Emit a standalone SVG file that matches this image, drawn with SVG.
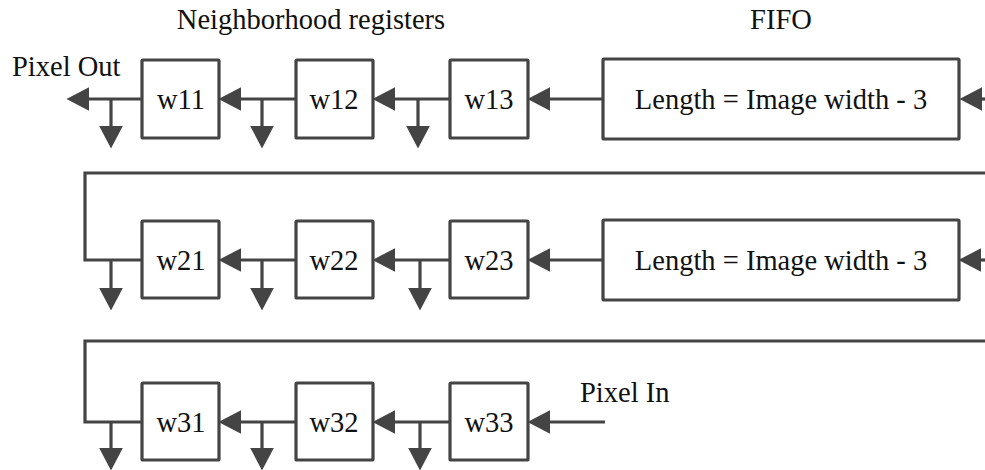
<svg xmlns="http://www.w3.org/2000/svg" width="985" height="470" viewBox="0 0 985 470">
<defs>
<marker id="ah" markerUnits="userSpaceOnUse" markerWidth="24" markerHeight="24" viewBox="0 0 22 22" refX="15" refY="11" orient="auto">
<path d="M0,0 L21,11 L0,22 Z" fill="#444"/>
</marker>
<style>
.box{fill:#fff;stroke:#444;stroke-width:3.2}
.ln{fill:none;stroke:#444;stroke-width:3.2}
.arr{fill:none;stroke:#444;stroke-width:3.2;marker-end:url(#ah)}
text{font-family:"Liberation Serif","Times New Roman",serif;font-size:28.5px;fill:#111}
.c{text-anchor:middle}
</style>
</defs>
<rect width="985" height="470" fill="#fff"/>
<g id="labels">
<text class="c" x="311" y="29">Neighborhood registers</text>
<text class="c" x="781" y="29">FIFO</text>
<text x="12" y="76">Pixel Out</text>
<text x="580" y="402">Pixel In</text>
</g>
<g id="connectors">
<!-- row 1 -->
<line class="arr" x1="985" y1="99" x2="966" y2="99"/>
<line class="arr" x1="603" y1="99" x2="534" y2="99"/>
<line class="arr" x1="450" y1="99" x2="379" y2="99"/>
<line class="arr" x1="296" y1="99" x2="225" y2="99"/>
<line class="arr" x1="142" y1="99" x2="73" y2="99"/>
<line class="arr" x1="111" y1="99" x2="111" y2="142"/>
<line class="arr" x1="262" y1="99" x2="262" y2="142"/>
<line class="arr" x1="418" y1="99" x2="418" y2="142"/>
<!-- row 2 -->
<polyline class="ln" points="985,173 85,173 85,260 142,260"/>
<line class="arr" x1="985" y1="260" x2="965" y2="260"/>
<line class="arr" x1="603" y1="260" x2="534" y2="260"/>
<line class="arr" x1="450" y1="260" x2="379" y2="260"/>
<line class="arr" x1="296" y1="260" x2="225" y2="260"/>
<line class="arr" x1="111" y1="260" x2="111" y2="304"/>
<line class="arr" x1="262" y1="260" x2="262" y2="304"/>
<line class="arr" x1="420" y1="260" x2="420" y2="304"/>
<!-- row 3 -->
<polyline class="ln" points="985,341 85,341 85,422 142,422"/>
<line class="arr" x1="605" y1="422" x2="534" y2="422"/>
<line class="arr" x1="450" y1="422" x2="379" y2="422"/>
<line class="arr" x1="296" y1="422" x2="225" y2="422"/>
<line class="arr" x1="111" y1="422" x2="111" y2="464"/>
<line class="arr" x1="262" y1="422" x2="262" y2="464"/>
<line class="arr" x1="420" y1="422" x2="420" y2="464"/>
</g>
<g id="w11"><rect class="box" x="142" y="60" width="77" height="78" rx="1"/><text class="c" x="181" y="109">w11</text></g>
<g id="w12"><rect class="box" x="296" y="60" width="77" height="78" rx="1"/><text class="c" x="334" y="109">w12</text></g>
<g id="w13"><rect class="box" x="450" y="60" width="78" height="78" rx="1"/><text class="c" x="489" y="109">w13</text></g>
<g id="fifo1"><rect class="box" x="603" y="59" width="356" height="80" rx="1"/><text class="c" x="781" y="109">Length = Image width - 3</text></g>
<g id="w21"><rect class="box" x="142" y="221" width="77" height="77" rx="1"/><text class="c" x="181" y="270">w21</text></g>
<g id="w22"><rect class="box" x="296" y="221" width="77" height="77" rx="1"/><text class="c" x="334" y="270">w22</text></g>
<g id="w23"><rect class="box" x="450" y="221" width="78" height="77" rx="1"/><text class="c" x="489" y="270">w23</text></g>
<g id="fifo2"><rect class="box" x="603" y="220" width="356" height="80" rx="1"/><text class="c" x="781" y="270">Length = Image width - 3</text></g>
<g id="w31"><rect class="box" x="142" y="383" width="77" height="77" rx="1"/><text class="c" x="181" y="432">w31</text></g>
<g id="w32"><rect class="box" x="296" y="383" width="77" height="77" rx="1"/><text class="c" x="334" y="432">w32</text></g>
<g id="w33"><rect class="box" x="450" y="383" width="78" height="77" rx="1"/><text class="c" x="489" y="432">w33</text></g>
</svg>
